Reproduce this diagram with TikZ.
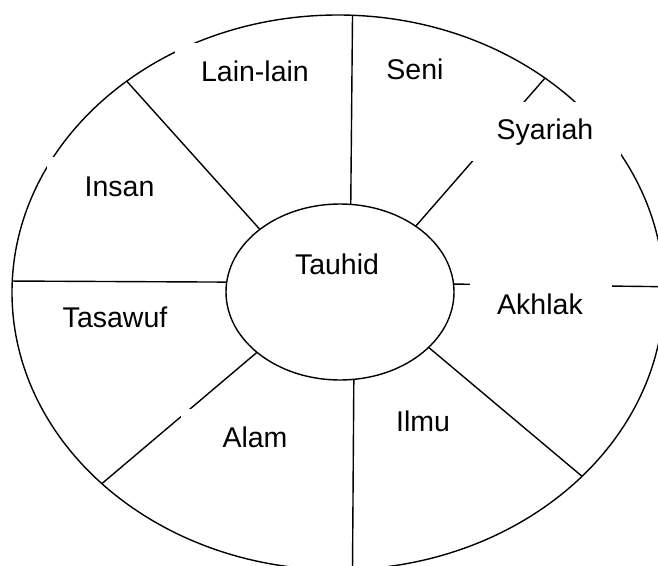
\documentclass[tikz,border=0pt]{standalone}
\usepackage{fontspec}
\setmainfont{Liberation Sans}
\usetikzlibrary{shapes.geometric}
\begin{document}
\begin{tikzpicture}[x=1pt,y=-1pt,
  ring/.style={draw=black, line width=1.4pt, ellipse, inner sep=0pt, outer sep=0pt},
  spoke/.style={draw=black, line width=1.4pt},
  blank/.style={fill=white},
  lbl/.style={anchor=base, inner sep=0pt, font=\fontsize{28.5}{30}\selectfont}]
\useasboundingbox (0,0) rectangle (658,565);
\clip (0,0) rectangle (658,565);
\fill[white] (0,0) rectangle (658,565);
% rings
\node[ring, minimum width=652pt, minimum height=554.8pt] (outer) at (338,292.4) {};
\node[ring, minimum width=228pt, minimum height=176pt] (core) at (340,292) {};
% spokes
\draw[spoke] (core.83.5)  -- (outer.87.5);
\draw[spoke] (core.142)   -- (outer.135.35);
\draw[spoke] (core.41.5)  -- (outer.46.7);
\draw[spoke] (core.175.5) -- (outer.178.3);
\draw[spoke] (core.4.5)   -- (outer.1.65);
\draw[spoke] (core.216.3) -- (outer.219.6);
\draw[spoke] (core.279)   -- (outer.273.3);
\draw[spoke] (core.328.3) -- (outer.323.2);
% white text boxes that hide parts of the lines
\path[blank] (175,43) rectangle (335,101);
\path[blank] (47,157) rectangle (180,215);
\path[blank] (465,102) rectangle (621,161);
\path[blank] (470,276) rectangle (612,334);
\path[blank] (181,409) rectangle (329,465);
% labels
\node[lbl] (lainlain) at (255,81) {Lain-lain};
\node[lbl] (seni) at (415,79) {Seni};
\node[lbl] (syariah) at (545,139) {Syariah};
\node[lbl] (insan) at (119.5,196) {Insan};
\node[lbl] (tauhid) at (337,274) {Tauhid};
\node[lbl] (tasawuf) at (115,327) {Tasawuf};
\node[lbl] (akhlak) at (540,314) {Akhlak};
\node[lbl] (alam) at (255,447) {Alam};
\node[lbl] (ilmu) at (423,431) {Ilmu};
\end{tikzpicture}
\end{document}
